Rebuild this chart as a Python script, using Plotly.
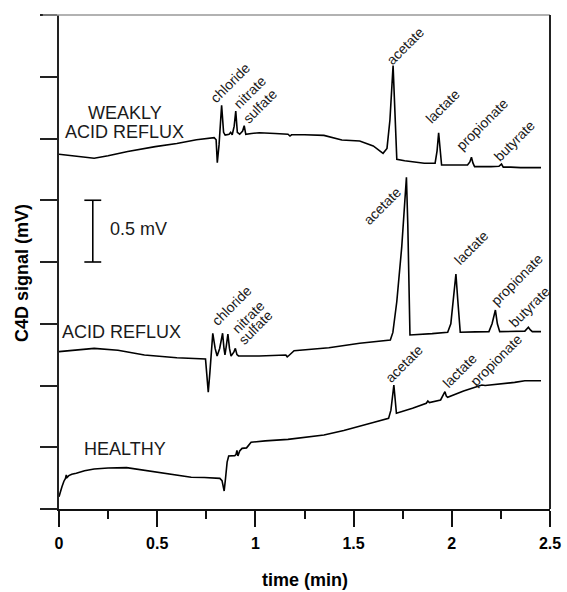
import plotly.graph_objects as go

# ---------------- data ----------------
t_weak = [0.000, 0.05, 0.10, 0.179, 0.25, 0.35, 0.49, 0.60, 0.70, 0.79, 0.800, 0.806, 0.815, 0.828, 0.838,
          0.846, 0.866, 0.874, 0.882, 0.892, 0.900, 0.908, 0.920, 0.935, 0.943, 0.951, 0.98, 1.02, 1.10,
          1.166, 1.176, 1.184, 1.25, 1.349, 1.44, 1.531, 1.60, 1.65, 1.670, 1.685, 1.701, 1.712, 1.720,
          1.76, 1.86, 1.915, 1.925, 1.933, 1.941, 1.948, 2.00, 2.08, 2.092, 2.100, 2.108, 2.116, 2.20,
          2.240, 2.253, 2.262, 2.30, 2.35, 2.454]
v_weak = [2.872, 2.862, 2.850, 2.840, 2.860, 2.895, 2.934, 2.960, 2.990, 3.007, 2.990, 2.804, 2.950, 3.269, 3.050,
          3.028, 3.035, 3.050, 3.030, 3.100, 3.223, 3.050, 3.035, 3.060, 3.104, 3.034, 3.040, 3.047, 3.040,
          3.035, 3.020, 3.030, 3.030, 3.025, 2.988, 2.980, 2.940, 2.880, 2.920, 3.150, 3.590, 3.100, 2.831,
          2.820, 2.799, 2.800, 2.900, 3.047, 2.880, 2.785, 2.785, 2.785, 2.810, 2.848, 2.800, 2.772, 2.772,
          2.775, 2.793, 2.768, 2.768, 2.764, 2.764]

t_acid = [0.000, 0.10, 0.179, 0.30, 0.435, 0.60, 0.746, 0.752, 0.760, 0.768, 0.775, 0.783, 0.795, 0.805, 0.818,
          0.833, 0.840, 0.845, 0.852, 0.860, 0.868, 0.876, 0.890, 0.898, 0.906, 0.914, 1.019, 1.155, 1.162,
          1.168, 1.197, 1.374, 1.531, 1.687, 1.700, 1.720, 1.745, 1.769, 1.776, 1.782, 1.787, 1.90, 1.979,
          1.995, 2.010, 2.021, 2.030, 2.038, 2.043, 2.12, 2.189, 2.205, 2.222, 2.232, 2.244, 2.372, 2.382,
          2.390, 2.400, 2.410, 2.454]
v_acid = [1.274, 1.292, 1.301, 1.285, 1.247, 1.225, 1.215, 1.100, 0.945, 1.100, 1.300, 1.423, 1.300, 1.239, 1.300,
          1.423, 1.300, 1.247, 1.320, 1.417, 1.300, 1.239, 1.270, 1.301, 1.250, 1.239, 1.239, 1.247, 1.232,
          1.239, 1.282, 1.306, 1.342, 1.368, 1.430, 1.680, 2.120, 2.686, 2.300, 1.600, 1.409, 1.420, 1.431,
          1.500, 1.750, 1.903, 1.700, 1.480, 1.431, 1.434, 1.436, 1.500, 1.611, 1.500, 1.436, 1.440, 1.460,
          1.471, 1.450, 1.436, 1.436]

t_healthy = [0.000, 0.008, 0.015, 0.025, 0.033, 0.037, 0.041, 0.050, 0.065, 0.088, 0.130, 0.179, 0.25, 0.344,
             0.43, 0.526, 0.60, 0.673, 0.74, 0.819, 0.830, 0.841, 0.848, 0.856, 0.864, 0.880, 0.895, 0.901,
             0.906, 0.911, 0.920, 0.932, 0.955, 0.978, 1.05, 1.166, 1.25, 1.349, 1.45, 1.531, 1.60, 1.678,
             1.690, 1.705, 1.712, 1.718, 1.80, 1.87, 1.878, 1.886, 1.943, 1.955, 1.965, 1.972, 1.979, 2.06,
             2.153, 2.17, 2.263, 2.32, 2.372, 2.454]
v_healthy = [0.100, 0.150, 0.181, 0.225, 0.248, 0.275, 0.255, 0.270, 0.282, 0.289, 0.310, 0.324, 0.332, 0.335,
             0.315, 0.289, 0.270, 0.257, 0.255, 0.248, 0.230, 0.146, 0.250, 0.380, 0.429, 0.432, 0.432, 0.440,
             0.475, 0.430, 0.470, 0.491, 0.495, 0.540, 0.552, 0.564, 0.578, 0.599, 0.635, 0.667, 0.700, 0.734,
             0.800, 1.004, 0.850, 0.775, 0.815, 0.856, 0.875, 0.862, 0.883, 0.920, 0.950, 0.915, 0.904, 0.955,
             1.004, 1.000, 1.015, 1.025, 1.039, 1.039]

# peak labels: (text, time, signal) per trace
peak_names_weak = ["chloride", "nitrate", "sulfate", "acetate", "lactate", "propionate", "butyrate"]
peak_t_weak = [0.871, 0.972, 1.023, 1.762, 1.955, 2.156, 2.317]
peak_v_weak = [3.447, 3.379, 3.266, 3.751, 3.263, 3.117, 2.982]

peak_names_acid = ["chloride", "nitrate", "sulfate", "acetate", "lactate", "propionate", "butyrate"]
peak_t_acid = [0.876, 0.963, 1.003, 1.645, 2.098, 2.330, 2.394]
peak_v_acid = [1.646, 1.552, 1.471, 2.456, 2.111, 1.854, 1.638]

peak_names_healthy = ["acetate", "lactate", "propionate"]
peak_t_healthy = [1.755, 2.037, 2.226]
peak_v_healthy = [1.174, 1.120, 1.206]

x_ticks = [0, 0.5, 1, 1.5, 2, 2.5]
x_tick_labels = ["0", "0.5", "1", "1.5", "2", "2.5"]

# scale bar (0.5 mV)
scalebar_t = 0.172
scalebar_low = 2.0
scalebar_high = 2.5
scalebar_cap = 0.043

FONT = "Liberation Sans, Arial, sans-serif"
TXT = "#1a1a1a"

fig = go.Figure()
for tt, vv in [(t_weak, v_weak), (t_acid, v_acid), (t_healthy, v_healthy)]:
    fig.add_trace(go.Scatter(x=tt, y=vv, mode="lines",
                             line=dict(color="black", width=1.6), hoverinfo="skip", showlegend=False))

# scale bar
fig.add_trace(go.Scatter(
    x=[scalebar_t, scalebar_t, None, scalebar_t - scalebar_cap, scalebar_t + scalebar_cap, None,
       scalebar_t - scalebar_cap, scalebar_t + scalebar_cap],
    y=[scalebar_low, scalebar_high, None, scalebar_low, scalebar_low, None, scalebar_high, scalebar_high],
    mode="lines", line=dict(color="black", width=1.6), hoverinfo="skip", showlegend=False))

ann = []
for names, ts, vs in [(peak_names_weak, peak_t_weak, peak_v_weak),
                      (peak_names_acid, peak_t_acid, peak_v_acid),
                      (peak_names_healthy, peak_t_healthy, peak_v_healthy)]:
    for n, t, v in zip(names, ts, vs):
        ann.append(dict(x=t, y=v, text=n, showarrow=False, textangle=-45,
                        xanchor="center", yanchor="middle",
                        font=dict(family=FONT, size=14, color=TXT)))

for text, t, v in [("WEAKLY", 0.335, 3.206), ("ACID REFLUX", 0.335, 3.055),
                   ("ACID REFLUX", 0.316, 1.431), ("HEALTHY", 0.335, 0.483),
                   ("0.5 mV", 0.406, 2.267)]:
    ann.append(dict(x=t, y=v, text=text, showarrow=False, xanchor="center", yanchor="middle",
                    font=dict(family=FONT, size=18, color=TXT)))

ann.append(dict(xref="paper", yref="paper", x=-0.075, y=0.478, text="<b>C4D signal (mV)</b>",
                textangle=-90, showarrow=False, xanchor="center", yanchor="middle",
                font=dict(family=FONT, size=18, color="black")))
ann.append(dict(xref="paper", yref="paper", x=0.5, y=-0.1437, text="<b>time (min)</b>",
                showarrow=False, xanchor="center", yanchor="middle",
                font=dict(family=FONT, size=18, color="black")))

fig.update_layout(
    width=567, height=592,
    margin=dict(l=59, r=6, t=15, b=83),
    paper_bgcolor="white", plot_bgcolor="white",
    annotations=ann,
    shapes=[
        dict(type="line", xref="paper", yref="paper", x0=-0.033, x1=1, y0=1, y1=1,
             line=dict(color="#999999", width=1.5), layer="above"),
        dict(type="line", xref="paper", yref="paper", x0=1, x1=1, y0=0, y1=1,
             line=dict(color="#222222", width=2), layer="above"),
    ],
    xaxis=dict(range=[0, 2.5], showgrid=False, zeroline=False, showline=True, linecolor="#111111",
               linewidth=2, ticks="outside", ticklen=16, tickwidth=1.5, tickcolor="#111111",
               tickvals=x_ticks, ticktext=x_tick_labels, ticklabelstandoff=3,
               ticklabeloverflow="allow",
               tickfont=dict(family=FONT, size=16, color="black", weight="bold"),
               minor=dict(dtick=0.25, tick0=0, ticks="outside", ticklen=8, tickwidth=1.5,
                          tickcolor="#111111", showgrid=False)),
    yaxis=dict(range=[0, 4], showgrid=False, zeroline=False, showline=True, linecolor="#222222",
               linewidth=2, ticks="outside", ticklen=17, tickwidth=1.5, tickcolor="#222222",
               dtick=0.5, tick0=0, showticklabels=False),
)

fig.write_html("out.html")
